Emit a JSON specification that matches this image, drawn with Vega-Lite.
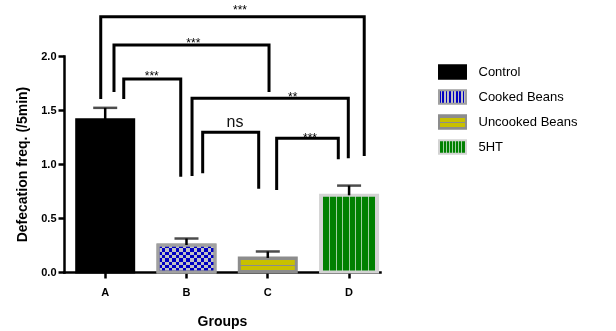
{
  "$schema": "https://vega.github.io/schema/vega-lite/v6.json",
  "width": 316,
  "height": 216,
  "autosize": {"type": "none"},
  "padding": {"left": 64, "top": 56, "right": 236, "bottom": 59},
  "datasets": {
    "bars": [
      {"grp": "A", "treatment": "Control", "mean": 1.41, "upper": 1.52},
      {"grp": "B", "treatment": "Cooked Beans", "mean": 0.25, "upper": 0.31},
      {"grp": "C", "treatment": "Uncooked Beans", "mean": 0.13, "upper": 0.19},
      {"grp": "D", "treatment": "5HT", "mean": 0.71, "upper": 0.80}
    ],
    "brackets": [
      {"bid": 1, "seq": 1, "bx": 0.945, "by": 1.602},
      {"bid": 1, "seq": 2, "bx": 0.945, "by": 2.364},
      {"bid": 1, "seq": 3, "bx": 4.186, "by": 2.364},
      {"bid": 1, "seq": 4, "bx": 4.186, "by": 1.074},
      {"bid": 2, "seq": 1, "bx": 1.108, "by": 1.666},
      {"bid": 2, "seq": 2, "bx": 1.108, "by": 2.102},
      {"bid": 2, "seq": 3, "bx": 3.015, "by": 2.102},
      {"bid": 2, "seq": 4, "bx": 3.015, "by": 1.666},
      {"bid": 3, "seq": 1, "bx": 1.228, "by": 1.602},
      {"bid": 3, "seq": 2, "bx": 1.228, "by": 1.787},
      {"bid": 3, "seq": 3, "bx": 1.929, "by": 1.787},
      {"bid": 3, "seq": 4, "bx": 1.929, "by": 0.882},
      {"bid": 4, "seq": 1, "bx": 2.068, "by": 0.889},
      {"bid": 4, "seq": 2, "bx": 2.068, "by": 1.608},
      {"bid": 4, "seq": 3, "bx": 3.990, "by": 1.608},
      {"bid": 4, "seq": 4, "bx": 3.990, "by": 1.053},
      {"bid": 5, "seq": 1, "bx": 2.199, "by": 0.914},
      {"bid": 5, "seq": 2, "bx": 2.199, "by": 1.293},
      {"bid": 5, "seq": 3, "bx": 2.888, "by": 1.293},
      {"bid": 5, "seq": 4, "bx": 2.888, "by": 0.771},
      {"bid": 6, "seq": 1, "bx": 3.109, "by": 0.759},
      {"bid": 6, "seq": 2, "bx": 3.109, "by": 1.238},
      {"bid": 6, "seq": 3, "bx": 3.867, "by": 1.238},
      {"bid": 6, "seq": 4, "bx": 3.867, "by": 1.043}
    ],
    "labels": [
      {"lab": "***", "lx": 2.658, "ly": 2.388},
      {"lab": "***", "lx": 2.084, "ly": 2.085},
      {"lab": "***", "lx": 1.572, "ly": 1.782},
      {"lab": "**", "lx": 3.306, "ly": 1.585},
      {"lab": "ns", "lx": 2.597, "ly": 1.346},
      {"lab": "***", "lx": 3.519, "ly": 1.206}
    ]
  },
  "layer": [
    {
      "data": {"name": "bars"},
      "layer": [
        {
          "mark": {"type": "bar", "strokeWidth": 3},
          "encoding": {
            "x": {"field": "grp", "type": "nominal", "title": "Groups",
                  "scale": {"type": "band", "domain": ["A", "B", "C", "D"], "paddingInner": 0.299, "paddingOuter": 0.093, "align": 0.84}},
            "y": {"field": "mean", "type": "quantitative", "title": "Defecation freq. (/5min)",
                  "scale": {"domain": [0, 2], "nice": false},
                  "axis": {"values": [0, 0.5, 1, 1.5, 2], "format": ".1f"}},
            "fill": {"field": "treatment", "type": "nominal", "title": null,
                     "scale": {"domain": ["Control", "Cooked Beans", "Uncooked Beans", "5HT"],
                               "range": [
                                 "#000000",
                                 {"expr": "{gradient:'linear',x1:0,y1:0,x2:1,y2:0,stops:[{offset:0,color:'#0000c3'},{offset:0.0625,color:'#0000c3'},{offset:0.0625,color:'#c3c3c3'},{offset:0.125,color:'#c3c3c3'},{offset:0.125,color:'#0000c3'},{offset:0.1875,color:'#0000c3'},{offset:0.1875,color:'#c3c3c3'},{offset:0.25,color:'#c3c3c3'},{offset:0.25,color:'#0000c3'},{offset:0.3125,color:'#0000c3'},{offset:0.3125,color:'#c3c3c3'},{offset:0.375,color:'#c3c3c3'},{offset:0.375,color:'#0000c3'},{offset:0.4375,color:'#0000c3'},{offset:0.4375,color:'#c3c3c3'},{offset:0.5,color:'#c3c3c3'},{offset:0.5,color:'#0000c3'},{offset:0.5625,color:'#0000c3'},{offset:0.5625,color:'#c3c3c3'},{offset:0.625,color:'#c3c3c3'},{offset:0.625,color:'#0000c3'},{offset:0.6875,color:'#0000c3'},{offset:0.6875,color:'#c3c3c3'},{offset:0.75,color:'#c3c3c3'},{offset:0.75,color:'#0000c3'},{offset:0.8125,color:'#0000c3'},{offset:0.8125,color:'#c3c3c3'},{offset:0.875,color:'#c3c3c3'},{offset:0.875,color:'#0000c3'},{offset:0.9375,color:'#0000c3'},{offset:0.9375,color:'#c3c3c3'},{offset:1,color:'#c3c3c3'}]}"},
                                 {"expr": "{gradient:'linear',x1:0,y1:0,x2:0,y2:1,stops:[{offset:0,color:'#8c8c8c'},{offset:0.17,color:'#8c8c8c'},{offset:0.17,color:'#c8c000'},{offset:0.47,color:'#c8c000'},{offset:0.47,color:'#8c8c8c'},{offset:0.59,color:'#8c8c8c'},{offset:0.59,color:'#c8c000'},{offset:0.86,color:'#c8c000'},{offset:0.86,color:'#8c8c8c'},{offset:1,color:'#8c8c8c'}]}"},
                                 {"expr": "{gradient:'linear',x1:0,y1:0,x2:1,y2:0,stops:[{offset:0,color:'#d3d3d3'},{offset:0.05,color:'#d3d3d3'},{offset:0.05,color:'#008000'},{offset:0.1525,color:'#008000'},{offset:0.1525,color:'#a0cfa0'},{offset:0.1725,color:'#a0cfa0'},{offset:0.1725,color:'#008000'},{offset:0.265,color:'#008000'},{offset:0.265,color:'#a0cfa0'},{offset:0.285,color:'#a0cfa0'},{offset:0.285,color:'#008000'},{offset:0.3775,color:'#008000'},{offset:0.3775,color:'#a0cfa0'},{offset:0.3975,color:'#a0cfa0'},{offset:0.3975,color:'#008000'},{offset:0.49,color:'#008000'},{offset:0.49,color:'#a0cfa0'},{offset:0.51,color:'#a0cfa0'},{offset:0.51,color:'#008000'},{offset:0.6025,color:'#008000'},{offset:0.6025,color:'#a0cfa0'},{offset:0.6225,color:'#a0cfa0'},{offset:0.6225,color:'#008000'},{offset:0.715,color:'#008000'},{offset:0.715,color:'#a0cfa0'},{offset:0.735,color:'#a0cfa0'},{offset:0.735,color:'#008000'},{offset:0.8275,color:'#008000'},{offset:0.8275,color:'#a0cfa0'},{offset:0.8475,color:'#a0cfa0'},{offset:0.8475,color:'#008000'},{offset:0.95,color:'#008000'},{offset:0.95,color:'#d3d3d3'},{offset:1,color:'#d3d3d3'}]}"}
                               ]}},
            "stroke": {"field": "treatment", "type": "nominal", "title": null,
                       "scale": {"domain": ["Control", "Cooked Beans", "Uncooked Beans", "5HT"],
                                 "range": ["#000000", "#a0a0a0", "#8c8c8c", "#d3d3d3"]}}
          }
        },
        {
          "transform": [{"filter": "datum.grp === 'B'"}],
          "mark": {"type": "bar", "blend": "difference",
                   "fill": {"gradient": "linear", "x1": 0, "y1": 0, "x2": 0, "y2": 1,
                            "stops": [
                              {"offset": 0, "color": "#000000"}, {"offset": 0.124, "color": "#000000"},
                              {"offset": 0.124, "color": "#c3c300"}, {"offset": 0.248, "color": "#c3c300"},
                              {"offset": 0.248, "color": "#000000"}, {"offset": 0.372, "color": "#000000"},
                              {"offset": 0.372, "color": "#c3c300"}, {"offset": 0.496, "color": "#c3c300"},
                              {"offset": 0.496, "color": "#000000"}, {"offset": 0.62, "color": "#000000"},
                              {"offset": 0.62, "color": "#c3c300"}, {"offset": 0.744, "color": "#c3c300"},
                              {"offset": 0.744, "color": "#000000"}, {"offset": 0.868, "color": "#000000"},
                              {"offset": 0.868, "color": "#c3c300"}, {"offset": 0.992, "color": "#c3c300"},
                              {"offset": 0.992, "color": "#000000"}, {"offset": 1, "color": "#000000"}
                            ]}},
          "encoding": {
            "x": {"field": "grp", "type": "nominal", "title": "Groups"},
            "y": {"field": "mean", "type": "quantitative", "title": "Defecation freq. (/5min)"}
          }
        },
        {
          "transform": [{"filter": "datum.grp === 'B'"}],
          "mark": {"type": "bar", "filled": false, "stroke": "#a0a0a0", "strokeWidth": 3},
          "encoding": {
            "x": {"field": "grp", "type": "nominal", "title": "Groups"},
            "y": {"field": "mean", "type": "quantitative", "title": "Defecation freq. (/5min)"}
          }
        },
        {
          "mark": {"type": "rule", "color": "#000000", "strokeWidth": 2.5},
          "encoding": {
            "x": {"field": "grp", "type": "nominal", "title": "Groups"},
            "y": {"field": "mean", "type": "quantitative", "title": "Defecation freq. (/5min)"},
            "y2": {"field": "upper"}
          }
        },
        {
          "mark": {"type": "tick", "color": "#000000", "thickness": 2.5, "size": 24},
          "encoding": {
            "x": {"field": "grp", "type": "nominal", "title": "Groups"},
            "y": {"field": "upper", "type": "quantitative", "title": "Defecation freq. (/5min)"}
          }
        }
      ]
    },
    {
      "layer": [
        {
          "data": {"name": "brackets"},
          "mark": {"type": "line", "color": "#000000", "strokeWidth": 3, "strokeJoin": "miter", "strokeCap": "butt"},
          "encoding": {
            "x": {"field": "bx", "type": "quantitative", "axis": null,
                  "scale": {"domain": [0.4932, 4.38], "nice": false, "zero": false}},
            "y": {"field": "by", "type": "quantitative", "title": "Defecation freq. (/5min)"},
            "detail": {"field": "bid", "type": "nominal"},
            "order": {"field": "seq", "type": "quantitative"}
          }
        },
        {
          "data": {"name": "labels"},
          "transform": [{"filter": "datum.lab !== 'ns'"}],
          "mark": {"type": "text", "font": "Liberation Sans", "fontSize": 12, "color": "#000000", "baseline": "alphabetic", "align": "center"},
          "encoding": {
            "x": {"field": "lx", "type": "quantitative", "axis": null},
            "y": {"field": "ly", "type": "quantitative", "title": "Defecation freq. (/5min)"},
            "text": {"field": "lab"}
          }
        },
        {
          "data": {"name": "labels"},
          "transform": [{"filter": "datum.lab === 'ns'"}],
          "mark": {"type": "text", "font": "Liberation Sans", "fontSize": 16, "color": "#111111", "baseline": "alphabetic", "align": "center"},
          "encoding": {
            "x": {"field": "lx", "type": "quantitative", "axis": null},
            "y": {"field": "ly", "type": "quantitative", "title": "Defecation freq. (/5min)"},
            "text": {"field": "lab"}
          }
        }
      ]
    }
  ],
  "resolve": {"scale": {"x": "independent"}, "axis": {"x": "independent"}},
  "config": {
    "view": {"stroke": null},
    "axis": {
      "domainColor": "#000000", "domainWidth": 2.5, "domainCap": "square",
      "tickColor": "#000000", "tickWidth": 2.5, "tickSize": 6,
      "labelFont": "Liberation Sans", "labelFontWeight": "bold", "labelFontSize": 11, "labelColor": "#000000",
      "titleFont": "Liberation Sans", "titleFontWeight": "bold", "titleFontSize": 14, "titleColor": "#000000",
      "grid": false, "zindex": 1
    },
    "axisY": {"labelPadding": 2, "titlePadding": 11},
    "axisX": {"labelPadding": 8, "titlePadding": 17, "labelAngle": 0},
    "legend": {
      "orient": "none", "legendX": 380.5, "legendY": 8, "padding": 0,
      "symbolType": "M-2,-1H2V1H-2Z", "symbolSize": 182, "symbolStrokeWidth": 2,
      "labelFont": "Liberation Sans", "labelFontSize": 13, "labelColor": "#000000",
      "labelOffset": 18, "rowPadding": 3
    }
  }
}
